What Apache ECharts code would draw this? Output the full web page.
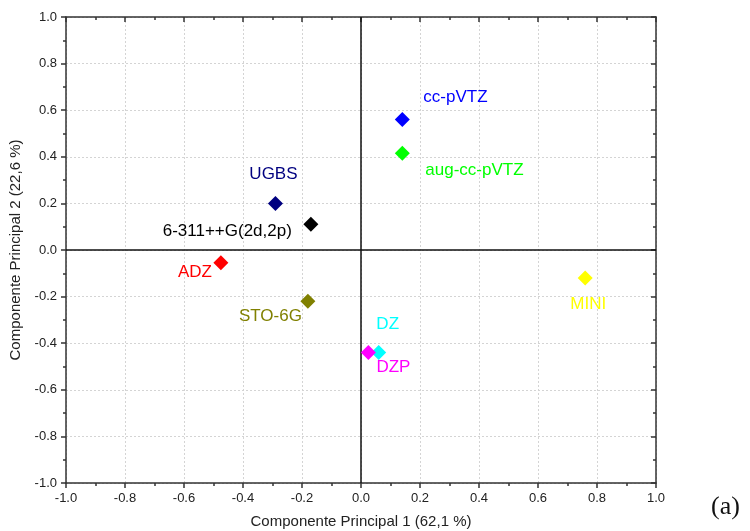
<!DOCTYPE html>
<html>
<head>
<meta charset="utf-8">
<script src="https://cdn.jsdelivr.net/npm/echarts@6/dist/echarts.min.js"></script>
<style>
  html, body { margin: 0; padding: 0; background: #fff; }
  #chart { width: 750px; height: 531px; }
</style>
</head>
<body>
<div id="chart"></div>
<script>
// PCA scores of each basis set on the first two principal components
const basisSets = ['cc-pVTZ', 'aug-cc-pVTZ', 'UGBS', '6-311++G(2d,2p)', 'ADZ', 'STO-6G', 'DZ', 'DZP', 'MINI'];
const pc1 = [0.14, 0.14, -0.29, -0.17, -0.475, -0.18, 0.06, 0.025, 0.76];
const pc2 = [0.56, 0.415, 0.20, 0.11, -0.055, -0.22, -0.44, -0.44, -0.12];

const axisTitleX = 'Componente Principal 1 (62,1 %)';
const axisTitleY = 'Componente Principal 2 (22,6 %)';
const panelTag = '(a)';

// marker colour and label placement per basis set
const looks = {
  'cc-pVTZ':         { color: '#0000ff', align: 'left',   offset: [21, -22] },
  'aug-cc-pVTZ':     { color: '#00ff00', align: 'left',   offset: [23, 17] },
  'UGBS':            { color: '#000080', align: 'center', offset: [-2, -29] },
  '6-311++G(2d,2p)': { color: '#000000', align: 'right',  offset: [-19, 7] },
  'ADZ':             { color: '#ff0000', align: 'right',  offset: [-9, 9] },
  'STO-6G':          { color: '#808000', align: 'right',  offset: [-6, 15] },
  'DZ':              { color: '#00ffff', align: 'center', offset: [9, -28] },
  'DZP':             { color: '#ff00ff', align: 'left',   offset: [8, 15] },
  'MINI':            { color: '#ffff00', align: 'center', offset: [3, 26] }
};

const sans = 'Liberation Sans, Arial, sans-serif';

const points = basisSets.map((name, i) => {
  const lk = looks[name];
  return {
    name: name,
    value: [pc1[i], pc2[i]],
    itemStyle: { color: lk.color, opacity: 1 },
    label: {
      show: true,
      position: 'inside',
      align: lk.align,
      verticalAlign: 'middle',
      offset: lk.offset,
      formatter: name,
      color: lk.color,
      fontSize: 17,
      fontFamily: sans
    }
  };
});

const fmt = v => v.toFixed(1);
const tickFont = { fontSize: 13, color: '#222', fontFamily: sans };
const gridDash = { show: true, lineStyle: { color: '#d4d4d4', type: [2, 2], width: 1 } };
const frame = { show: true, onZero: false, lineStyle: { color: '#333', width: 1.5 } };
const tickStyle = { color: '#333', width: 1.5 };

const chart = echarts.init(document.getElementById('chart'), null, { renderer: 'canvas' });
chart.setOption({
  animation: false,
  grid: { left: 66, top: 17, right: 94, bottom: 48, containLabel: false, outerBoundsMode: 'none' },
  xAxis: [
    {
      type: 'value', min: -1, max: 1, interval: 0.2, position: 'bottom',
      name: axisTitleX, nameLocation: 'middle', nameGap: 31,
      nameTextStyle: { fontSize: 15, color: '#222', fontFamily: sans },
      axisLine: frame,
      axisTick: { show: true, inside: false, length: 5, lineStyle: tickStyle },
      minorTick: { show: true, splitNumber: 2, length: 3, lineStyle: tickStyle },
      axisLabel: Object.assign({ formatter: fmt, margin: 9 }, tickFont),
      splitLine: gridDash
    },
    {
      type: 'value', min: -1, max: 1, interval: 0.2, position: 'top',
      axisLine: frame,
      axisTick: { show: true, inside: true, length: 5, lineStyle: tickStyle },
      minorTick: { show: true, splitNumber: 2, length: 3, lineStyle: tickStyle },
      axisLabel: { show: false },
      splitLine: { show: false }
    }
  ],
  yAxis: [
    {
      type: 'value', min: -1, max: 1, interval: 0.2, position: 'left',
      name: axisTitleY, nameLocation: 'middle', nameGap: 37, nameRotate: 90,
      nameTextStyle: { fontSize: 15, color: '#222', fontFamily: sans },
      axisLine: frame,
      axisTick: { show: true, inside: false, length: 5, lineStyle: tickStyle },
      minorTick: { show: true, splitNumber: 2, length: 3, lineStyle: tickStyle },
      axisLabel: Object.assign({ formatter: fmt, margin: 9 }, tickFont),
      splitLine: gridDash
    },
    {
      type: 'value', min: -1, max: 1, interval: 0.2, position: 'right',
      axisLine: frame,
      axisTick: { show: true, inside: true, length: 5, lineStyle: tickStyle },
      minorTick: { show: true, splitNumber: 2, length: 3, lineStyle: tickStyle },
      axisLabel: { show: false },
      splitLine: { show: false }
    }
  ],
  graphic: [
    {
      type: 'text', left: 711, top: 494,
      style: { text: panelTag, fontSize: 26, fill: '#111', fontFamily: 'Liberation Serif, Times New Roman, serif' }
    }
  ],
  series: [
    {
      type: 'scatter',
      xAxisIndex: 0, yAxisIndex: 0,
      symbol: 'diamond',
      symbolSize: 15,
      data: points,
      z: 5,
      markLine: {
        silent: true,
        symbol: 'none',
        label: { show: false },
        lineStyle: { color: '#111', type: 'solid', width: 1.5 },
        data: [{ xAxis: 0 }, { yAxis: 0 }]
      }
    }
  ]
});
</script>
</body>
</html>
